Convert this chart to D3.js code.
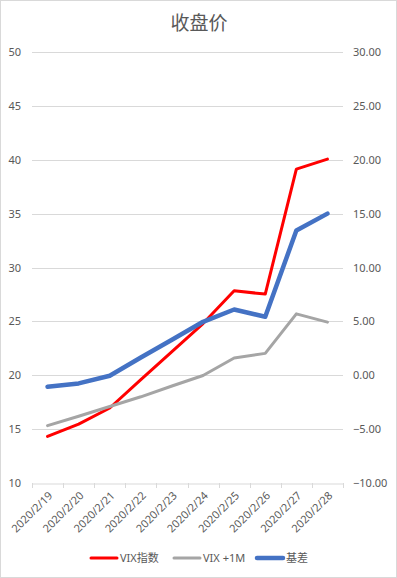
<!DOCTYPE html>
<html>
<head>
<meta charset="utf-8">
<script src="https://cdn.jsdelivr.net/npm/d3@7"></script>
<style>
  body { margin: 0; background: #fff; }
  text { font-family: "Noto Sans", "Noto Sans CJK SC", sans-serif; fill: #595959; }
</style>
</head>
<body>
<div id="chart"></div>
<script>
// closing prices, Feb 2020
var dates = ["2020/2/19", "2020/2/20", "2020/2/21", "2020/2/22", "2020/2/23",
             "2020/2/24", "2020/2/25", "2020/2/26", "2020/2/27", "2020/2/28"];
var vix     = [14.32, 15.47, 16.96, 19.6, 22.2, 24.8, 27.84, 27.53, 39.13, 40.06];
var vix1m   = [15.32, 16.2, 17.1, 18.0, 19.0, 19.98, 21.6, 22.03, 25.7, 24.93];
var basis   = [-1.07, -0.76, -0.05, 1.65, 3.3, 4.96, 6.1, 5.43, 13.43, 15.0];
var leftTicks  = [10, 15, 20, 25, 30, 35, 40, 45, 50];
var rightTicks = [-10, -5, 0, 5, 10, 15, 20, 25, 30];

var width = 397, height = 578;
var plotL = 32, plotR = 343, plotT = 52, plotB = 483;

var svg = d3.select("#chart").append("svg")
  .attr("width", width).attr("height", height);

svg.append("rect")
  .attr("x", 0.5).attr("y", 0.5)
  .attr("width", width - 1).attr("height", height - 1)
  .attr("fill", "#fff").attr("stroke", "#d9d9d9");

var x = d3.scaleBand().domain(dates).range([plotL, plotR]);
var yL = d3.scaleLinear().domain([10, 50]).range([plotB, plotT]);
var yR = d3.scaleLinear().domain([-10, 30]).range([plotB, plotT]);

// gridlines
svg.append("g").selectAll("line")
  .data(leftTicks.slice(1)).enter().append("line")
  .attr("x1", plotL).attr("x2", plotR)
  .attr("y1", function (d) { return Math.round(yL(d)) + 0.5; })
  .attr("y2", function (d) { return Math.round(yL(d)) + 0.5; })
  .attr("stroke", "#d9d9d9").attr("stroke-width", 1);

// left axis
var gL = svg.append("g")
  .attr("transform", "translate(" + (plotL - 11) + ",0)")
  .call(d3.axisLeft(yL).tickValues(leftTicks).tickSize(0).tickPadding(0));
gL.select(".domain").remove();
gL.selectAll("text").style("font-size", "11px").attr("fill", "#595959");

// right axis
var gR = svg.append("g")
  .attr("transform", "translate(" + (plotR + 10) + ",0)")
  .call(d3.axisRight(yR).tickValues(rightTicks).tickFormat(d3.format(".2f")).tickSize(0).tickPadding(0));
gR.select(".domain").remove();
gR.selectAll("text").style("font-size", "11px").attr("fill", "#595959");

// bottom axis
var xAxis = d3.axisBottom(x).tickSize(0).tickPadding(0);
var gX = svg.append("g")
  .attr("transform", "translate(0," + (Math.round(plotB) + 0.5) + ")")
  .call(xAxis);
gX.select(".domain").attr("stroke", "#d9d9d9");
gX.selectAll("text")
  .style("font-size", "11px")
  .attr("fill", "#595959")
  .attr("text-anchor", "end")
  .attr("dy", "0.35em")
  .attr("transform", "translate(3,10) rotate(-45)");

// category ticks at band edges
svg.append("g").selectAll("line")
  .data(dates.concat(["end"])).enter().append("line")
  .attr("x1", function (d, i) { return Math.round(plotL + i * x.step()) + 0.5; })
  .attr("x2", function (d, i) { return Math.round(plotL + i * x.step()) + 0.5; })
  .attr("y1", plotB).attr("y2", plotB + 5)
  .attr("stroke", "#d9d9d9");

var cx = function (d, i) { return x(dates[i]) + x.bandwidth() / 2; };

var series = [
  { name: "VIX指数", values: vix, scale: yL, color: "#ff0000", w: 3 },
  { name: "VIX +1M", values: vix1m, scale: yL, color: "#a5a5a5", w: 3 },
  { name: "基差", values: basis, scale: yR, color: "#4472c4", w: 4.5 }
];

series.forEach(function (s) {
  var line = d3.line()
    .x(cx)
    .y(function (d) { return s.scale(d); });
  svg.append("path")
    .datum(s.values)
    .attr("d", line)
    .attr("fill", "none")
    .attr("stroke", s.color)
    .attr("stroke-width", s.w)
    .attr("stroke-linejoin", "round")
    .attr("stroke-linecap", "round");
});

// title
svg.append("text")
  .attr("x", 199).attr("y", 30)
  .attr("text-anchor", "middle")
  .style("font-size", "19px")
  .style("font-family", "'Noto Sans CJK SC', sans-serif")
  .text("收盘价");

// legend
var legendX = [91, 174, 257];
var leg = svg.append("g").selectAll("g")
  .data(series).enter().append("g")
  .attr("transform", function (d, i) { return "translate(" + legendX[i] + ",558)"; });
leg.append("line")
  .attr("x1", 0).attr("x2", 26)
  .attr("stroke", function (d) { return d.color; })
  .attr("stroke-width", function (d) { return d.w; })
  .attr("stroke-linecap", "round");
leg.append("text")
  .attr("x", 29).attr("dy", "0.35em")
  .style("font-size", "11px")
  .text(function (d) { return d.name; });
</script>
</body>
</html>
